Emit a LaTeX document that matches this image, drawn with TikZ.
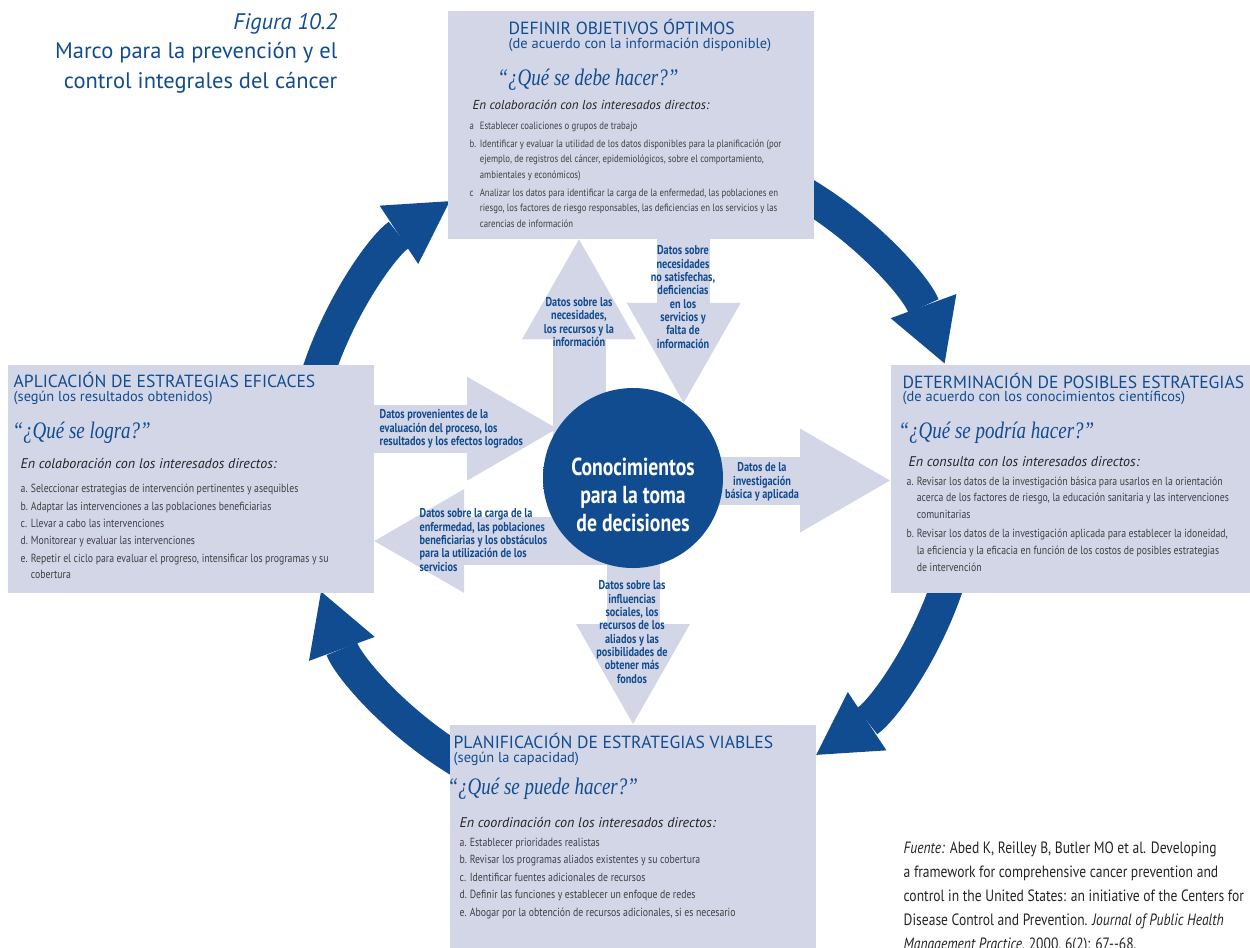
\documentclass[tikz,border=0pt]{standalone}
\usepackage{fontspec}
\setmainfont{PT Sans}
\newfontfamily\narrowfont[FakeStretch=0.8]{PT Sans}
\newfontfamily\taskfont[FakeStretch=0.83]{PT Sans}
\newfontfamily\quotefont[FakeStretch=0.8]{Liberation Serif}
\usetikzlibrary{arrows.meta, positioning}

\definecolor{ccblue}{RGB}{16,76,143}
\definecolor{ccfill}{RGB}{211,214,231}
\definecolor{ccgray}{RGB}{64,64,64}
\definecolor{ccdark}{RGB}{35,35,35}

\pgfdeclareradialshading{hubglow}{\pgfpoint{0bp}{0bp}}{color(0bp)=(ccblue); color(46bp)=(ccblue); color(49.5bp)=(white); color(50bp)=(white)}

\newcommand{\itm}[1]{\makebox[5.8pt][l]{#1}}
\newcommand{\cnt}{\hspace*{5.8pt}}

\tikzset{every picture/.style={line width=0.75pt}}

\begin{document}
\begin{tikzpicture}[x=0.02cm, y=-0.02cm,
    stage/.style={fill=ccfill, minimum width=7.32cm, minimum height=4.56cm, anchor=north west, inner sep=0},
    stagehead/.style={anchor=base west, inner sep=0, text=ccblue, font=\fontsize{10}{12}\selectfont},
    stagesub/.style={anchor=base west, inner sep=0, text=ccblue, font=\fontsize{8.2}{9}\selectfont},
    question/.style={anchor=base west, inner sep=0, text=ccblue, font=\quotefont\itshape\fontsize{13.5}{15}\selectfont},
    partners/.style={anchor=base west, inner sep=0, text=ccdark, font=\itshape\fontsize{8}{9}\selectfont},
    tasks/.style={anchor=base west, inner sep=0, align=left, text=ccgray, font=\taskfont\fontsize{6.7}{9.9}\selectfont},
    flowlabel/.style={inner sep=0, align=center, text=ccblue, font=\narrowfont\bfseries\fontsize{7.3}{7.6}\selectfont},
    loopflow/.style={draw=ccblue, line width=0.66cm, -{Triangle[width=1.4cm,length=1.22cm,line width=0pt]}},
    flowv/.style={draw=ccfill, line width=1.06cm, -{Triangle[width=2.28cm,length=2cm,line width=0pt]}},
    flowh/.style={draw=ccfill, line width=0.96cm, -{Triangle[width=2.08cm,length=1.8cm,line width=0pt]}},
    hubtext/.style={inner sep=0, align=center, text=white, font=\narrowfont\bfseries\fontsize{14}{16}\selectfont}]
    \useasboundingbox (0,0) rectangle (1250,947);
    \node[circle, minimum size=3.6cm, inner sep=0] (hub) at (633,478) {};

    % cycle around the four stages
    \draw[loopflow] ([shift={(195:332)}]hub.center) arc[start angle=195, end angle=236.5, radius=332];
    \draw[loopflow] ([shift={(298:332)}]hub.center) arc[start angle=298, end angle=339.8, radius=332];
    \draw[loopflow] ([shift={(15:332)}]hub.center) arc[start angle=15, end angle=56.5, radius=332];
    \draw[loopflow] ([shift={(118:332)}]hub.center) arc[start angle=118, end angle=160, radius=332];

    \node[stage] (define) at (447,10) {};
    \node[stage] (determine) at (890,364) {};
    \node[stage] (plan) at (449,724) {};
    \node[stage] (apply) at (7,364) {};

    % data flows to and from the centre
    \draw[flowv] ([xshift=-1.08cm]hub.center) -- ([xshift=-1.08cm]hub.center |- define.south);
    \draw[flowv] (hub.56.3 |- define.south) -- (hub.56.3);
    \draw[flowh] (apply.east |- hub.147) -- (hub.147);
    \draw[flowh] ([yshift=-1.26cm]hub.center) -- ([yshift=-1.26cm]hub.center -| apply.east);
    \draw[flowh] ([yshift=-0.05cm]hub.center) -- ([yshift=-0.05cm]hub.center -| determine.west);
    \draw[flowv] (hub.center) -- (hub.center |- plan.north);
    \shade[shading=hubglow] (hub.center) circle[radius=90];
    \node[hubtext] (hublbl) at (633,495) {Conocimientos\\para la toma\\de decisiones};

    \node[flowlabel] (needlbl) at (579,322) {Datos sobre las\\necesidades,\\los recursos y la\\información};
    \node[flowlabel] (unmetlbl) at (683,297) {Datos sobre\\necesidades\\no satisfechas,\\deficiencias\\en los\\servicios y\\falta de\\información};
    \node[flowlabel, align=left, anchor=west] (evallbl) at (379,429) {Datos provenientes de la\\evaluación del proceso, los\\resultados y los efectos logrados};
    \node[flowlabel, align=left, anchor=west] (burdenlbl) at (419,540) {Datos sobre la carga de la\\enfermedad, las poblaciones\\beneficiarias y los obstáculos\\para la utilización de los\\servicios};
    \node[flowlabel] (researchlbl) at (762,482) {Datos de la\\investigación\\básica y aplicada};
    \node[flowlabel] (sociallbl) at (632,632) {Datos sobre las\\influencias\\sociales, los\\recursos de los\\aliados y las\\posibilidades de\\obtener más\\fondos};

    % define
    \node[stagehead] (definehead) at (508,34) {DEFINIR OBJETIVOS ÓPTIMOS};
    \node[stagesub] (definesub) at (508,48) {(de acuerdo con la información disponible)};
    \node[question] (defineq) at (497,85) {“¿Qué se debe hacer?”};
    \node[partners, font=\itshape\fontsize{7.4}{9}\selectfont] (definewho) at (472,109) {En colaboración con los interesados directos:};
    \node[tasks, font=\taskfont\fontsize{6}{8.8}\selectfont] (definetasks) at (469,227) {\itm{a}Establecer coaliciones o grupos de trabajo\\[1.4pt]
        \itm{b.}Identificar y evaluar la utilidad de los datos disponibles para la planificación (por\\
        \cnt ejemplo, de registros del cáncer, epidemiológicos, sobre el comportamiento,\\
        \cnt ambientales y económicos)\\[1.4pt]
        \itm{c}Analizar los datos para identificar la carga de la enfermedad, las poblaciones en\\
        \cnt riesgo, los factores de riesgo responsables, las deficiencias en los servicios y las\\
        \cnt carencias de información};

    % determine
    \node[stagehead] (determinehead) at (902,388) {DETERMINACIÓN DE POSIBLES ESTRATEGIAS};
    \node[stagesub] (determinesub) at (902,401) {(de acuerdo con los conocimientos científicos)};
    \node[question] (determineq) at (898,438) {“¿Qué se podría hacer?”};
    \node[partners] (determinewho) at (908,466) {En consulta con los interesados directos:};
    \node[tasks, font=\taskfont\fontsize{6.7}{9.5}\selectfont] (determinetasks) at (906,571) {\itm{a.}Revisar los datos de la investigación básica para usarlos en la orientación\\
        \cnt acerca de los factores de riesgo, la educación sanitaria y las intervenciones\\
        \cnt comunitarias\\[1.3pt]
        \itm{b.}Revisar los datos de la investigación aplicada para establecer la idoneidad,\\
        \cnt la eficiencia y la eficacia en función de los costos de posibles estrategias\\
        \cnt de intervención};

    % plan
    \node[stagehead] (planhead) at (453,748) {PLANIFICACIÓN DE ESTRATEGIAS VIABLES};
    \node[stagesub] (plansub) at (453,762) {(según la capacidad)};
    \node[question] (planq) at (447,794) {“¿Qué se puede hacer?”};
    \node[partners] (planwho) at (459,827) {En coordinación con los interesados directos:};
    \node[tasks] (plantasks) at (459,916) {\itm{a.}Establecer prioridades realistas\\
        \itm{b.}Revisar los programas aliados existentes y su cobertura\\
        \itm{c.}Identificar fuentes adicionales de recursos\\
        \itm{d.}Definir las funciones y establecer un enfoque de redes\\
        \itm{e.}Abogar por la obtención de recursos adicionales, si es necesario};

    % apply
    \node[stagehead] (applyhead) at (13,387) {APLICACIÓN DE ESTRATEGIAS EFICACES};
    \node[stagesub] (applysub) at (13,401) {(según los resultados obtenidos)};
    \node[question] (applyq) at (12,438) {“¿Qué se logra?”};
    \node[partners] (applywho) at (20,468) {En colaboración con los interesados directos:};
    \node[tasks] (applytasks) at (20,578) {\itm{a.}Seleccionar estrategias de intervención pertinentes y asequibles\\
        \itm{b.}Adaptar las intervenciones a las poblaciones beneficiarias\\
        \itm{c.}Llevar a cabo las intervenciones\\
        \itm{d.}Monitorear y evaluar las intervenciones\\
        \itm{e.}Repetir el ciclo para evaluar el progreso, intensificar los programas y su\\[-1pt]
        \cnt cobertura};

    \node[anchor=base east, inner sep=0, align=right, text=ccblue, font=\fontsize{12.8}{16.7}\selectfont] (figtitle) at (338,88) {\textit{Figura 10.2}\\Marco para la prevención y el\\control integrales del cáncer};
    \node[anchor=base west, inner sep=0, align=left, text=ccdark, font=\taskfont\fontsize{9.3}{13.6}\selectfont] (fuente) at (903,949) {\textit{Fuente:} Abed K, Reilley B, Butler MO et al. Developing\\
        a framework for comprehensive cancer prevention and\\
        control in the United States: an initiative of the Centers for\\
        Disease Control and Prevention. \textit{Journal of Public Health}\\
        \textit{Management Practice}, 2000, 6(2): 67--68.};
\end{tikzpicture}
\end{document}
